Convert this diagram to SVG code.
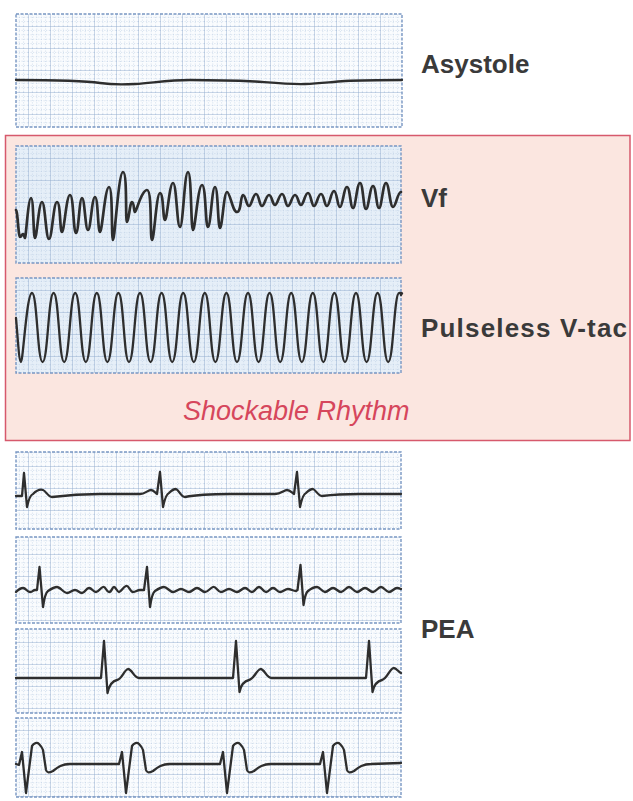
<svg xmlns="http://www.w3.org/2000/svg" width="633" height="801" viewBox="0 0 633 801">
<defs>
<pattern id="grid" width="22" height="22" x="6" y="4" patternUnits="userSpaceOnUse">
<path d="M4.4,0V22M8.8,0V22M13.2,0V22M17.6,0V22M0,4.4H22M0,8.8H22M0,13.2H22M0,17.6H22" stroke="#bccee4" stroke-width="0.7" stroke-dasharray="1 1.6" fill="none"/>
<path d="M0,0V22M0,0H22" stroke="#8fa9cc" stroke-width="0.9" fill="none"/>
</pattern>
<style>
.paper{fill:#fafcfe}
.paperin{fill:#e6eff8}
.gridfill{fill:url(#grid)}
.edge{fill:none;stroke:#7896c2;stroke-width:1.4;stroke-dasharray:3 1.5}
.trace{fill:none;stroke:#2e2e2e;stroke-width:2.3;stroke-linejoin:round;stroke-linecap:round}
.thick{stroke-width:2.7}
.label{font-family:"Liberation Sans",Arial,Helvetica,sans-serif;font-weight:bold;font-size:26px;fill:#3a3a3a}
.shock{font-family:"Liberation Sans",Arial,Helvetica,sans-serif;font-style:italic;font-size:27px;fill:#d6465c}
</style>
</defs>
<rect width="633" height="801" fill="#ffffff"/>

<g id="shockable-box">
<rect x="5.5" y="135.5" width="624.5" height="305" fill="#fbe6e0" stroke="#d6596c" stroke-width="1.5"/>
<text class="shock" x="183" y="420">Shockable Rhythm</text>
</g>

<g id="asystole">
<rect class="paper" x="16" y="14" width="386" height="113"/>
<rect class="gridfill" x="16" y="14" width="386" height="113"/>
<rect class="edge" x="16" y="14" width="386" height="113"/>
<path class="trace" d="M16,80 C40,80 80,80 100,83 C110,84.5 120,85 135,84 C155,82.5 170,80 190,80 C215,80 235,80.5 255,81.5 C275,83 290,84.5 305,84 C320,83.5 330,82 345,81 C365,80 385,80 402,80"/>
<text class="label" x="421" y="73">Asystole</text>
</g>

<g id="vf">
<rect class="paperin" x="16" y="146" width="385" height="117"/>
<rect class="gridfill" x="16" y="146" width="385" height="117"/>
<rect class="edge" x="16" y="146" width="385" height="117"/>
<path class="trace thick" d="M16,210 C17.6,210 18.4,237 20,237 S21.7,234 23,234 S24.1,238 25,238 S28.3,198 31,198 S33.2,238 35,238 S38.9,202 42,202 S45.9,239 49,239 S53.4,202 57,202 S59.8,232 62,232 S66.4,195 70,195 S73.3,233 76,233 S79.3,198 82,198 S85.3,230 88,230 S91.9,197 95,197 S97.8,232 100,232 S105,187 109,187 S111.2,240 113,240 S118.5,172 123,172 S125.2,222 127,222 S129.8,202 132,202 S133.7,212 135,212 S141.6,190 147,190 S149.8,240 152,240 S156.4,193 160,193 S162.8,220 165,220 S169.4,183 173,183 S176.9,227 180,227 S184.4,172 188,172 S190.8,230 193,230 S198,185 202,185 S205.3,227 208,227 S211.9,187 215,187 S217.8,228 220,228 S223.9,192 227,192 S232.5,212 237,212 S240.3,195 243,195 S246.3,206 249,206 S252.9,194 256,194 S259.3,206 262,206 S265.9,195 269,195 S272.3,205 275,205 S278.9,194 282,194 S285.3,206 288,206 S291.9,195 295,195 S298.3,205 301,205 S304.9,193 308,193 S311.3,206 314,206 S317.9,194 321,194 S324.3,206 327,206 S330.9,191 334,191 S337.3,207 340,207 S343.9,187 347,187 S350.3,208 353,208 S356.9,183 360,183 S363.3,209 366,209 S369.9,186 373,186 S376.3,208 379,208 S382.9,183 386,183 S389.9,207 393,207 S397.4,192 401,192"/>
<text class="label" x="421" y="207">Vf</text>
</g>

<g id="vtac">
<rect class="paperin" x="16" y="278" width="385" height="95"/>
<rect class="gridfill" x="16" y="278" width="385" height="95"/>
<rect class="edge" x="16" y="278" width="385" height="95"/>
<path class="trace" d="M16,318 C18,340 19,362 21,362 S26.7,293 32,293 S37.3,362 42.6,362 S48.3,293 53.6,293 S58.9,362 64.2,362 S69.9,293 75.2,293 S80.5,362 85.8,362 S91.5,293 96.8,293 S102.1,362 107.4,362 S113.1,293 118.4,293 S123.7,362 129,362 S134.7,293 140,293 S145.3,362 150.6,362 S156.3,293 161.6,293 S166.9,362 172.2,362 S177.9,293 183.2,293 S188.5,362 193.8,362 S199.5,293 204.8,293 S210.1,362 215.4,362 S221.1,293 226.4,293 S231.7,362 237,362 S242.7,293 248,293 S253.3,362 258.6,362 S264.3,293 269.6,293 S274.9,362 280.2,362 S285.9,293 291.2,293 S296.5,362 301.8,362 S307.5,293 312.8,293 S318.1,362 323.4,362 S329.1,293 334.4,293 S339.7,362 345,362 S350.7,293 356,293 S361.3,362 366.6,362 S372.3,293 377.6,293 S382.9,362 388.2,362 S393.9,293 399.2,293 S400.5,294 401,295"/>
<text class="label" x="421" y="337" textLength="206" lengthAdjust="spacing">Pulseless V-tac</text>
</g>

<g id="pea">
<rect class="paper" x="16" y="452" width="385" height="77"/>
<rect class="gridfill" x="16" y="452" width="385" height="77"/>
<rect class="edge" x="16" y="452" width="385" height="77"/>
<path class="trace" d="M16,496 L22,496 L24,473 L27,507 C28.5,500 30,495 33,494 C37,490 40,489 43,490 C46,491 48,497 52,497 C60,496 80,494 100,494 L140,494 C145,494 148,490 151,490 C154,490 155,493 157,494 L160,472 L163,507 C164.5,500 166,494 169,493 C172,490 174,489 176,489 C179,490 181,497 185,497 C195,495 210,494 230,494 L275,494 C281,494 284,490 287,490 C290,490 292,493 294,494 L297,472 L300,507 C301.5,500 303,494 306,493 C309,490 311,489 313,489 C316,490 318,496 322,496 C330,495 345,494 360,494 L401,494"/>

<rect class="paper" x="16" y="537" width="385" height="86"/>
<rect class="gridfill" x="16" y="537" width="385" height="86"/>
<rect class="edge" x="16" y="537" width="385" height="86"/>
<path class="trace" d="M16,592 S20,588 23,588 S27,592 30,592 S33,590 35,590 L37,590 L39.5,567 L43,607 C44,600 45,593 48,591 S54,587 57,587 S64,593 67,593 S72,590 75,590 S79,593 82,593 S86,588 89,588 S93,592 96,592 S100,588 103,587 S106,592 109,592 S112,587 114,587 S117,592 119,592 S123,587 126,586 S130,592 133,592 S137,590 140,590 L144,590 L147,567 L150,607 C151,600 152,593 155,591 S161,587 164,587 S170,592 173,592 S178,589 181,589 S186,592 189,592 S194,588 197,588 S202,592 205,592 S210,588 213,587 S218,592 221,592 S226,589 229,589 S234,592 237,592 S242,588 245,588 S249,592 252,592 S256,587 259,587 S263,592 266,592 S270,588 273,588 S277,592 280,592 S285,589 288,589 S293,591 296,591 L297.5,590 L300.5,565 L303.5,605 C304.5,598 305.5,593 308,591 S314,587 317,587 S322,592 325,592 S330,588 333,588 S338,592 341,592 S346,587 349,587 S354,592 357,592 S362,588 365,588 S370,592 373,592 S378,587 381,587 S386,592 389,592 S394,588 397,588 S400,589 401,589"/>

<rect class="paper" x="16" y="629" width="385" height="84"/>
<rect class="gridfill" x="16" y="629" width="385" height="84"/>
<rect class="edge" x="16" y="629" width="385" height="84"/>
<path class="trace" d="M16,678 L101,678 L104,641 L107.5,693 C109,686 112,681 117,680 C122,679 124,670 128,669 C132,669 134,678 139,678 L233,678 L236,641 L239.5,692 C241,685 244,681 249,680 C254,679 256.5,670 260.5,669 C264.5,669 266.5,678 271.5,678 L366,678 L369,641 L372.5,692 C374,685 377,681 382,680 C387,679 389.5,669 393.5,668 C396.5,668 398.5,672 401,673"/>

<rect class="paper" x="16" y="718" width="385" height="79"/>
<rect class="gridfill" x="16" y="718" width="385" height="79"/>
<rect class="edge" x="16" y="718" width="385" height="79"/>
<path class="trace" d="M16,764 L19,765 L22,752 L26,793 L32,746 C34,743 37,742 39,744 C41,746 42,747 43,750 L46,770 C47,773 49,773 53,771 C58,767 62,764 70,764 L119,764 L122,752 L126,793 L132,746 C134,743 137,742 139,744 C141,746 142,747 143,750 L146,770 C147,773 149,773 153,771 C158,767 162,764 170,764 L220,764 L223,752 L227,793 L233,746 C235,743 238,742 240,744 C242,746 243,747 244,750 L247,770 C248,773 250,773 254,771 C259,767 263,764 271,764 L320,764 L323,752 L327,793 L333,746 C335,743 338,742 340,744 C342,746 343,747 344,750 L347,770 C348,773 350,773 354,771 C359,767 363,764 371,764 L401,763"/>

<text class="label" x="421" y="638">PEA</text>
</g>
</svg>
